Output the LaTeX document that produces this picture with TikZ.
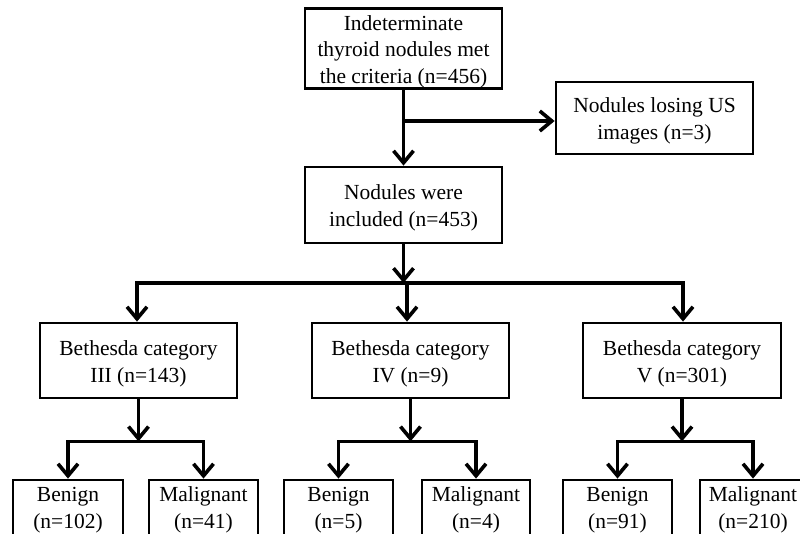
\documentclass[tikz,border=0pt]{standalone}
\usepackage{fontspec}
\setmainfont{Liberation Serif}
\usetikzlibrary{arrows.meta,calc}
\newcommand{\bxtext}[2][3pt]{\raisebox{-#1}[\height][\depth]{\begin{tabular}{@{}c@{}}#2\end{tabular}}}
\begin{document}
\begin{tikzpicture}[x=1pt,y=-1pt,
  box/.style={draw=black,line width=2.8pt,align=center,inner sep=0pt,
    font=\fontsize{21.5pt}{26.7pt}\selectfont},
  arr/.style={line width=3.6pt,-{Straight Barb[length=12pt,width=20pt,line width=3.6pt]}},
  ln/.style={line width=3.6pt}]
\useasboundingbox (0,0) rectangle (800,533);
\clip (0,0) rectangle (800,533);
\fill[white] (0,0) rectangle (800,533);
% top
\node[box,minimum width=197pt,minimum height=77pt] (top) at (403.5,48.5) {\bxtext{Indeterminate\\thyroid nodules met\\the criteria (n=456)}};
\node[box,minimum width=197pt,minimum height=72pt] (lose) at (654.5,118) {\bxtext{Nodules losing US\\images (n=3)}};
\node[box,minimum width=197pt,minimum height=76pt] (inc) at (403.5,205) {\bxtext{Nodules were\\included (n=453)}};
\coordinate (j1) at (403.5,121);
\draw[ln] (top.south) -- (j1);
\draw[arr] (j1) -- (lose.west |- j1);
\draw[arr] (j1) -- (inc.north);
% categories
\node[box,minimum width=197pt,minimum height=75pt] (c3) at (138.5,360.5) {\bxtext{Bethesda category\\III (n=143)}};
\node[box,minimum width=197pt,minimum height=75pt] (c4) at (410.5,360.5) {\bxtext{Bethesda category\\IV (n=9)}};
\node[box,minimum width=198pt,minimum height=75pt] (c5) at (682,360.5) {\bxtext{Bethesda category\\V (n=301)}};
\coordinate (h1) at (403.5,283);
\coordinate (hl) at (137,283);
\coordinate (hm) at (407,283);
\coordinate (hr) at (683,283);
\draw[arr] (inc.south) -- (h1);
\draw[ln,line cap=rect] (hl) -- (hr);
\draw[arr] (hl) -- (hl |- c3.north);
\draw[arr] (hm) -- (hm |- c4.north);
\draw[arr] (hr) -- (hr |- c5.north);
% bottom
\node[box,minimum width=110pt,minimum height=60pt] (b1) at (68,510) {\bxtext[0pt]{Benign\\(n=102)}};
\node[box,minimum width=109pt,minimum height=60pt] (m1) at (203.5,510) {\bxtext[0pt]{Malignant\\(n=41)}};
\node[box,minimum width=109pt,minimum height=60pt] (b2) at (338.5,510) {\bxtext[0pt]{Benign\\(n=5)}};
\node[box,minimum width=108pt,minimum height=60pt] (m2) at (476,510) {\bxtext[0pt]{Malignant\\(n=4)}};
\node[box,minimum width=109pt,minimum height=60pt] (b3) at (617.5,510) {\bxtext[0pt]{Benign\\(n=91)}};
\node[box,minimum width=106pt,minimum height=60pt] (m3) at (753,510) {\bxtext[0pt]{Malignant\\(n=210)}};
\foreach \c/\b/\m in {c3/b1/m1,c4/b2/m2,c5/b3/m3}{
  \coordinate (\c j) at ($(\c.south)+(0,42)$);
  \draw[arr] (\c.south) -- (\c j);
  \draw[ln,line cap=rect] (\b.north |- \c j) -- (\m.north |- \c j);
  \draw[arr] (\b.north |- \c j) -- (\b.north);
  \draw[arr] (\m.north |- \c j) -- (\m.north);
}
\end{tikzpicture}
\end{document}
